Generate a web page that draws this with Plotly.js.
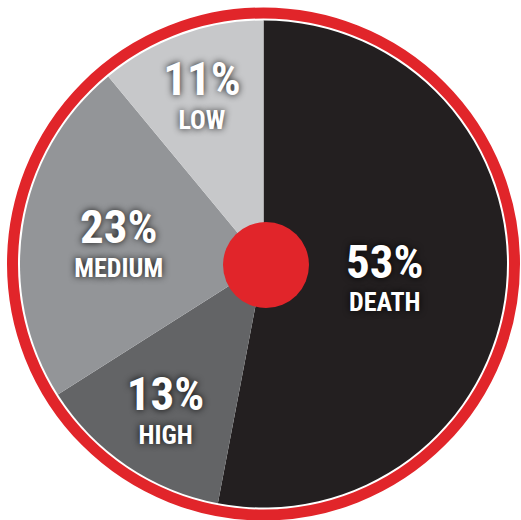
<!DOCTYPE html>
<html><head><meta charset="utf-8">
<script src="https://cdn.plot.ly/plotly-3.0.1.min.js"></script>
<style>html,body{margin:0;padding:0;background:#fff;}</style>
</head><body><div id="chart" style="width:521px;height:520px;"></div>
<script>
const labels = ["DEATH", "HIGH", "MEDIUM", "LOW"];
const values = [53, 13, 23, 11];
const colors = ["#231f20", "#636466", "#939598", "#c7c8ca"];

const W = 521, H = 520;
const cx = 263.5, cy = 264, r = 243.5;

const trace = {
  type: "pie",
  labels: labels,
  values: values,
  sort: false,
  direction: "clockwise",
  rotation: 0,
  marker: {colors: colors, line: {width: 0}},
  texttemplate: "<span style='font-size:47px'>%{value}%</span><br>%{label}",
  textposition: "inside",
  insidetextorientation: "horizontal",
  textfont: {family: "Roboto Condensed, Roboto, sans-serif", weight: "bold", size: 26, color: "#ffffff",
             shadow: "0px 0px 7px rgba(0,0,0,0.9)"},
  hoverinfo: "none",
  showlegend: false,
  domain: {x: [(cx - r) / W, (cx + r) / W], y: [(H - cy - r) / H, (H - cy + r) / H]}
};

const ringR = 251;
const dotX = 266, dotY = 265, dotR = 43;
const layout = {
  width: W, height: H,
  margin: {l: 0, r: 0, t: 0, b: 0},
  paper_bgcolor: "#ffffff",
  showlegend: false,
  shapes: [
    {type: "circle", xref: "paper", yref: "paper", layer: "below",
     x0: (cx - ringR) / W, x1: (cx + ringR) / W, y0: (H - cy - ringR) / H, y1: (H - cy + ringR) / H,
     line: {color: "#e1252a", width: 11}, fillcolor: "rgba(0,0,0,0)"},
    {type: "circle", xref: "paper", yref: "paper", layer: "above",
     x0: (dotX - dotR) / W, x1: (dotX + dotR) / W, y0: (H - dotY - dotR) / H, y1: (H - dotY + dotR) / H,
     line: {width: 0}, fillcolor: "#e1252a"}
  ]
};
Plotly.newPlot("chart", [trace], layout, {displayModeBar: false, staticPlot: true});
</script></body></html>
